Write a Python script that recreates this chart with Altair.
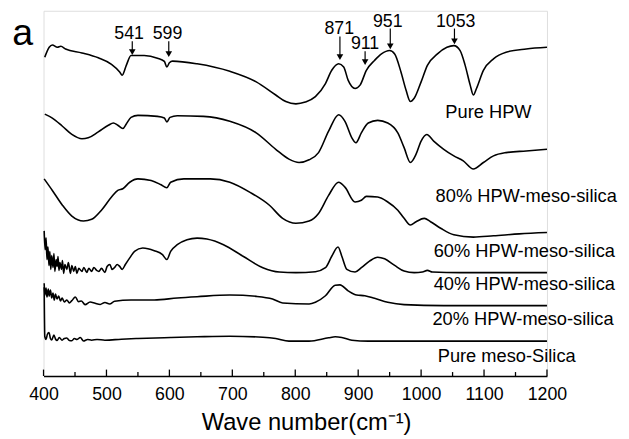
import altair as alt
import pandas as pd

FONT = "Liberation Sans, Arial, Helvetica, sans-serif"

# ---- spectra (wavenumber cm-1, offset transmittance in arbitrary units) ----
hpw_x = [402, 409, 414, 422, 427.5, 435, 461, 487, 508, 521, 525, 531.5, 539, 560, 581, 592, 596, 600, 605,
         644, 696, 738, 769, 785, 801, 816, 832, 848, 858, 869, 877, 884, 895, 903, 913, 926, 937, 950, 958,
         968, 976, 983, 989, 1000, 1010, 1026, 1041, 1052, 1062, 1070, 1078, 1083, 1088, 1099, 1115, 1135,
         1167, 1200]
hpw_y = [323, 333, 335.3, 333, 334, 331.3, 327.3, 322.3, 315.7, 308, 304.7, 314.7, 324.7, 324.7, 322, 318.7,
         313, 317.3, 319, 316.3, 308.7, 298, 284.7, 278, 275.7, 277.5, 283, 296.3, 309.7, 316.3, 313, 299.7,
         291.3, 294.7, 309.7, 319.7, 326.3, 329.7, 326.3, 308, 289.7, 278, 281.3, 298, 314.7, 326.3, 333,
         334.7, 329.7, 314.7, 294.7, 284.7, 291.3, 309.7, 321.3, 328, 331.3, 333]

p80_x = [402, 414, 430, 445, 461, 471, 487, 503, 511, 518, 526, 531.5, 539, 550, 581, 592, 596, 601, 612.5,
         654, 696, 738, 769, 790, 806, 822, 837, 853, 869, 879, 890, 896.5, 905, 916, 931, 947, 963, 973, 983,
         992, 1000, 1009, 1020, 1036, 1052, 1067, 1083, 1099, 1115, 1135, 1167, 1200]
p80_y = [265.3, 261.3, 253, 244.7, 240.3, 241.3, 247.3, 254, 256.3, 254, 250.7, 255.3, 262, 264, 263, 261.3,
         257.3, 262, 263.7, 263, 258, 246.3, 229.7, 219.7, 216.3, 219, 226.3, 248, 264.7, 258, 241.3, 236.3,
         246.3, 256.3, 259, 256.3, 246.3, 231.3, 216.3, 224.7, 238, 244.7, 238, 229.7, 223, 218, 209.7,
         216.3, 223, 226.3, 228, 229.7]

p60_x = [401, 414, 430, 445, 463.5, 476.5, 492, 508, 518, 526, 537, 550, 571, 586, 596, 602, 623, 665, 696,
         727.5, 759, 780, 801, 822, 837, 853, 869, 879, 895, 905, 913, 931, 947, 963, 973, 983, 992, 1005,
         1015, 1031, 1052, 1083, 1115, 1156, 1200]
p60_y = [199.7, 188, 173, 162, 157, 158.7, 168, 181.3, 188, 189.7, 196.3, 199.7, 198, 194, 190.7, 196.3,
         199.7, 199.7, 196.3, 186.3, 173, 159.7, 154.7, 157, 164.7, 183, 196.3, 191.3, 176.3, 178, 182,
         181.3, 176.3, 168, 159.7, 153, 156.3, 159.7, 156.3, 149.7, 143, 140.7, 142, 144, 145.3]

p40_x = [401, 402.5, 404, 405.5, 407, 408.6, 410, 411.5, 413, 415, 416.5, 418, 420, 421.6, 423, 424.5, 426,
         428.5, 430, 432, 434, 437, 439.5, 442.7, 445, 448, 450.5, 453, 456, 461, 464, 468.7, 472,
         476.5, 480, 484.4, 488, 492, 497.6, 501, 505.4, 509, 513, 517, 521, 525, 530, 537, 544.6, 557.6,
         576, 589, 596, 602, 612.5, 628,
         644, 659.6, 686, 717, 748.5, 774.6, 801, 832, 848, 858, 868, 874, 882, 895, 905, 918, 931, 942, 958,
         973, 989, 1002, 1010, 1018, 1062, 1200]
p40_y = [147, 128, 140, 118, 131, 112, 126, 108, 122, 110, 124, 106, 118, 111, 121, 107, 115,
         108, 117, 104, 113, 108, 115, 104, 112, 106, 111, 104, 109, 106, 110, 105, 109,
         106, 110, 107, 106, 109, 105, 111, 113, 108, 110, 113, 111, 108, 113, 119.7, 126.3, 129.7,
         127, 123, 118, 126.3, 133, 138,
         139.7, 138.7, 133, 121.3, 109.7, 105.3, 104.7, 105.7, 109.7, 121.3, 130.7, 121.3,
         108, 105.3, 109.7, 116.3, 120.3, 118.7, 112, 106.3, 104.7, 105.3, 107, 105.3, 104.7, 104.7]

p20_x = [401, 402, 404, 405.5, 407.5, 409, 411, 413, 415, 417, 419, 421.5, 424, 427, 429.5, 433, 437, 441,
         445, 450.5, 455.7, 460, 466, 474, 482, 490, 497.6, 505, 513, 539,
         576, 612.5, 644, 696, 738, 764, 780, 822, 832, 848, 863.5, 871, 884, 897.6, 910.6, 926, 947, 973,
         1036, 1200]
p20_y = [94, 82, 89, 80, 88, 81, 87, 79, 84, 77, 83, 78, 81, 76, 79, 75, 77, 74,
         76.3, 80, 75.3, 76, 72.3, 75, 73.7, 72.5, 74.5, 73, 75.7, 77,
         77, 79, 80.3, 82, 80.7, 78, 74, 73, 74.7, 81.3, 92, 92.3, 86.3, 82, 81.3, 78.7, 74.7, 72.3, 71.3, 71.3]

silica_x = [401, 402, 404, 406, 408.6, 411, 413, 416.5, 419, 421.6, 425, 429.5, 433, 437, 441, 445, 449, 453,
            458.4, 463.5, 470, 476.5, 485, 497.6, 523.6,
            550, 602, 644, 696, 748.5, 769, 790, 822, 853, 863.5, 874, 890, 916, 1200]
silica_y = [90, 40, 37, 42, 44, 38, 36.5, 41.5, 37.5, 36, 39, 36.3, 38, 38.5, 36, 35.7, 38, 37,
            39, 35.5, 37, 36.3, 37, 36.3, 37.3,
            38, 39, 39.7, 40.3, 39.3, 38, 35.3, 35.3, 38.7, 39.7, 39, 36.3, 35.3, 35.3]

# ---- sample labels ----
sample_names = ["Pure HPW", "80% HPW-meso-silica", "60% HPW-meso-silica",
                "40% HPW-meso-silica", "20% HPW-meso-silica", "Pure meso-Silica"]
sample_label_x = [1107, 1167, 1164, 1164, 1162, 1136]
sample_label_y = [261, 176, 121, 87, 52, 14.5]

# ---- band annotations ----
band_text = ["541", "599", "871", "911", "951", "1053"]
band_text_x = [536, 597, 870, 911, 947, 1055]
band_text_y = [341, 341, 346, 331, 354, 354]
band_arrow_x = [541, 599, 871, 911, 951, 1053]
band_arrow_top = [339, 339, 344, 329, 352, 352]
band_arrow_tip = [325, 323, 320, 315, 331, 336]

panel_letter = ["a"]
panel_letter_x = [367]
panel_letter_y = [335]

major_ticks = list(range(400, 1201, 100))
minor_ticks = list(range(450, 1200, 100))

series = [hpw_x, p80_x, p60_x, p40_x, p20_x, silica_x]
series_y = [hpw_y, p80_y, p60_y, p40_y, p20_y, silica_y]
rows = []
for name, xs, ys in zip(sample_names, series, series_y):
    for i, (a, b) in enumerate(zip(xs, ys)):
        rows.append({"series": name, "wn": a, "t": b, "order": i})
df = pd.DataFrame(rows)

ticks_df = pd.DataFrame(
    [{"wn": v, "t": 0, "t2": 6.5} for v in major_ticks] + [{"wn": v, "t": 0, "t2": 4} for v in minor_ticks]
)
labels_df = pd.DataFrame({"wn": sample_label_x, "t": sample_label_y, "txt": sample_names})
band_df = pd.DataFrame({"wn": band_text_x, "t": band_text_y, "txt": band_text})
arrow_df = pd.DataFrame({"wn": band_arrow_x, "t": band_arrow_top, "t2": [v + 4 for v in band_arrow_tip],
                         "tip": [v + 3 for v in band_arrow_tip]})
letter_df = pd.DataFrame({"wn": panel_letter_x, "t": panel_letter_y, "txt": panel_letter})

X = alt.X("wn:Q",
          scale=alt.Scale(domain=[400, 1200], nice=False, zero=False),
          axis=alt.Axis(values=major_ticks, ticks=False, grid=False, domainColor="black", domainWidth=1.3,
                        labelFont=FONT, labelFontSize=18, labelColor="black", labelPadding=10,
                        labelFlush=False, format="d",
                        title="Wave number(cm\u207b\u00b9)", titleFont=FONT, titleFontSize=24,
                        titleFontWeight="normal", titleColor="black", titlePadding=7, titleX=266))
Y = alt.Y("t:Q", scale=alt.Scale(domain=[0, 370], nice=False, zero=False), axis=None)

lines = alt.Chart(df).mark_line(color="black", strokeWidth=1.6, interpolate="monotone").encode(
    x=X, y=Y, detail="series:N", order="order:Q")

ticks = alt.Chart(ticks_df).mark_rule(color="black", strokeWidth=1.3).encode(x=X, y=Y, y2="t2:Q")

labels = alt.Chart(labels_df).mark_text(font=FONT, fontSize=18.5, align="center", baseline="alphabetic",
                                        color="black").encode(x=X, y=Y, text="txt:N")

band_labels = alt.Chart(band_df).mark_text(font=FONT, fontSize=18, align="center", baseline="alphabetic",
                                           color="black").encode(x=X, y=Y, text="txt:N")

arrows = alt.Chart(arrow_df).mark_rule(color="black", strokeWidth=1.2).encode(x=X, y=Y, y2="t2:Q")
heads = alt.Chart(arrow_df).mark_point(shape="triangle-down", filled=True, color="black", size=45,
                                       opacity=1, strokeWidth=0).encode(
    x=X, y=alt.Y("tip:Q", scale=alt.Scale(domain=[0, 370], nice=False, zero=False), axis=None))

letter = alt.Chart(letter_df).mark_text(font=FONT, fontSize=38, align="center", baseline="alphabetic",
                                        color="black").encode(x=X, y=Y, text="txt:N")

chart = alt.layer(lines, ticks, labels, band_labels, arrows, heads, letter).properties(
    width=510, height=370,
    padding={"left": 36, "right": 75, "top": 0, "bottom": 60},
    autosize=alt.AutoSizeParams(type="none"),
).configure_view(stroke=None).configure(background="white")

chart.save("out.html", embed_options={"renderer": "svg", "actions": False})
